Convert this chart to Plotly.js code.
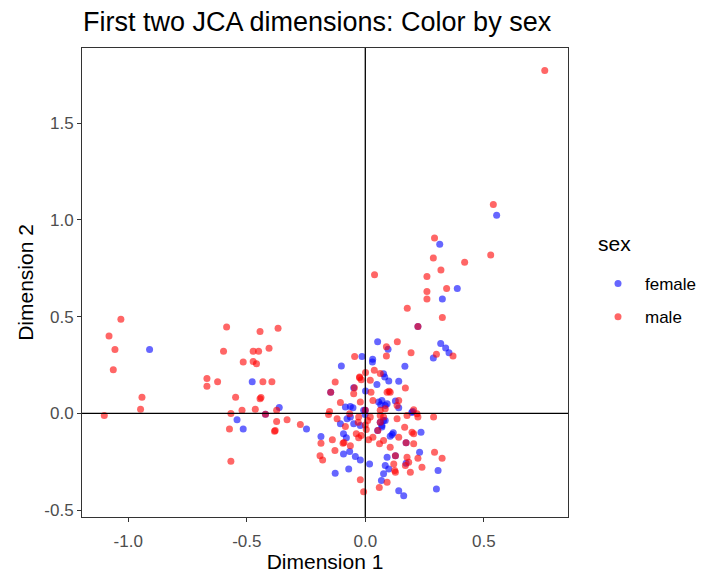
<!DOCTYPE html>
<html>
<head>
<meta charset="utf-8">
<script src="https://cdn.plot.ly/plotly-3.0.1.min.js"></script>
<style>html,body{margin:0;padding:0;background:#fff;}#chart{width:702px;height:573px;}</style>
</head>
<body>
<div id="chart"></div>
<script>
const femaleX = [-0.910,-0.477,-0.421,-0.363,-0.541,-0.515,-0.248,-0.187,0.554,0.314,0.388,0.325,0.222,0.052,0.096,0.318,0.339,0.353,0.287,-0.014,0.031,0.167,0.099,0.141,0.127,0.092,0.141,0.200,-0.101,0.049,-0.049,0.001,-0.146,-0.084,-0.063,-0.052,0.056,0.070,0.084,0.000,-0.105,-0.077,-0.049,-0.021,-0.080,-0.092,-0.066,-0.042,-0.021,-0.127,-0.070,0.018,0.068,0.077,0.052,0.070,0.084,0.084,0.235,0.113,0.118,0.105,0.172,0.229,0.127,0.172,0.307,0.300,0.141,0.162,0.092,0.099,0.077,0.082,0.065,-0.063,-0.007,-0.001,0.063,0.070,0.077,-0.092,0.196,0.030];
const femaleY = [0.330,0.164,-0.004,0.031,-0.033,-0.081,-0.081,-0.119,1.024,0.874,0.646,0.591,0.449,0.370,0.332,0.361,0.338,0.314,0.287,0.294,0.280,0.244,0.167,0.166,0.064,0.050,0.030,0.010,0.245,0.150,0.133,0.116,0.110,0.033,0.036,0.030,0.059,0.067,0.041,0.016,-0.053,-0.027,-0.053,-0.062,-0.126,-0.209,-0.197,-0.223,-0.240,-0.309,-0.287,-0.261,-0.347,-0.312,-0.088,-0.062,-0.036,-0.269,-0.097,-0.109,-0.100,-0.118,-0.152,-0.200,-0.218,-0.257,-0.295,-0.390,-0.399,-0.425,-0.226,-0.287,0.205,0.188,0.045,-0.019,0.016,-0.005,-0.045,-0.070,-0.036,-0.105,0.005,0.266];

const maleX = [-1.031,-1.081,-1.056,-1.063,-1.101,-0.942,-0.948,-0.585,-0.444,-0.368,-0.598,-0.473,-0.450,-0.406,-0.515,-0.473,-0.459,-0.668,-0.668,-0.623,-0.432,-0.394,-0.547,-0.444,-0.440,-0.567,-0.520,-0.464,-0.421,-0.374,-0.374,-0.330,-0.573,-0.383,-0.380,-0.274,-0.187,-0.191,-0.180,-0.567,0.540,0.292,0.287,0.529,0.419,0.319,0.039,0.260,0.260,0.260,0.343,0.177,0.325,0.222,0.135,0.089,0.193,0.370,0.300,-0.045,0.757,0.169,0.092,0.105,0.100,0.141,0.089,0.038,0.001,-0.127,-0.024,0.021,0.063,-0.046,-0.049,0.024,-0.146,-0.105,-0.151,-0.021,0.032,0.000,-0.119,-0.066,-0.028,-0.139,-0.094,-0.090,-0.063,-0.038,-0.028,0.014,-0.128,-0.021,-0.007,0.059,0.032,0.060,0.077,0.063,0.288,0.222,0.176,0.166,0.197,0.141,0.172,0.204,0.292,0.324,0.222,0.239,0.127,0.176,0.190,0.124,0.092,0.105,-0.024,-0.017,0.134,-0.084,0.021,0.010,0.063,0.084,0.063,0.077,0.134,0.204,0.218,0.204,0.004,-0.017,0.053,0.127,0.120,0.183,0.169,-0.030,0.000,-0.155];
const maleY = [0.487,0.400,0.330,0.226,-0.010,0.084,0.022,0.447,0.423,0.440,0.321,0.321,0.321,0.337,0.266,0.268,0.257,0.180,0.140,0.164,0.164,0.164,0.084,0.076,0.082,0.000,0.016,0.022,-0.004,0.016,-0.041,-0.033,-0.081,-0.092,-0.088,-0.057,-0.154,-0.219,-0.240,-0.247,1.079,0.907,0.803,0.819,0.781,0.741,0.717,0.708,0.630,0.591,0.646,0.544,0.496,0.449,0.370,0.297,0.314,0.297,0.306,0.294,1.772,0.131,0.110,0.110,0.115,0.067,0.344,0.223,0.211,0.162,0.185,0.171,0.206,0.133,0.102,0.110,0.110,0.057,0.010,0.059,0.067,0.016,-0.027,-0.002,-0.019,-0.136,-0.154,-0.150,-0.167,-0.105,-0.126,-0.136,-0.192,-0.342,-0.404,-0.382,-0.123,-0.157,-0.140,-0.010,-0.019,-0.019,-0.010,-0.071,-0.097,-0.123,-0.152,-0.157,-0.200,-0.231,-0.231,-0.278,-0.218,-0.226,-0.304,-0.295,-0.356,-0.175,0.188,0.174,0.041,-0.067,-0.019,-0.036,0.016,0.024,-0.045,-0.019,-0.027,0.019,-0.002,-0.105,-0.083,-0.114,-0.088,-0.304,-0.261,-0.252,-0.269,-0.045,-0.060,-0.005];

const tickVals = [-1.0,-0.5,0.0,0.5];
const tickText = ["-1.0","-0.5","0.0","0.5"];
const yTickVals = [-0.5,0.0,0.5,1.0,1.5];
const yTickText = ["-0.5","0.0","0.5","1.0","1.5"];

const FONT = 'Liberation Sans, Arial, sans-serif';

const traces = [
  {x: femaleX, y: femaleY, type:'scatter', mode:'markers', name:'female', legendgroup:'f',
   marker:{color:'rgba(0,0,255,0.6)', size:7, line:{width:0}}, hoverinfo:'skip'},
  {x: maleX, y: maleY, type:'scatter', mode:'markers', name:'male', legendgroup:'m',
   marker:{color:'rgba(255,0,0,0.6)', size:7, line:{width:0}}, hoverinfo:'skip'}
];

const axisCommon = {
  showgrid:false, zeroline:false, showline:true, mirror:true, linecolor:'#333333', linewidth:1,
  ticks:'outside', ticklen:4, tickcolor:'#333333', tickwidth:1,
  tickfont:{family:FONT, size:17, color:'#4d4d4d'}
};

const layout = {
  width:702, height:573,
  margin:{l:82, r:134, t:48, b:56, autoexpand:false},
  paper_bgcolor:'#ffffff', plot_bgcolor:'#ffffff',
  font:{family:FONT},
  title:{text:'First two JCA dimensions: Color by sex', xref:'container', x:83/702, xanchor:'left',
         yref:'container', y:1-22/573, yanchor:'middle', font:{size:27, color:'#000000'}},
  xaxis:Object.assign({}, axisCommon, {range:[-1.195,0.855], tickvals:tickVals, ticktext:tickText,
         ticklabelstandoff:5,
         title:{text:'Dimension 1', standoff:2, font:{size:21, color:'#000'}}}),
  yaxis:Object.assign({}, axisCommon, {range:[-0.535,1.888], tickvals:yTickVals, ticktext:yTickText,
         title:{text:'Dimension 2', standoff:4, font:{size:21, color:'#000'}}}),
  shapes:[
    {type:'line', xref:'x', yref:'paper', x0:0, x1:0, y0:0, y1:1, line:{color:'#000', width:1.3}, layer:'above'},
    {type:'line', xref:'paper', yref:'y', x0:0, x1:1, y0:0, y1:0, line:{color:'#000', width:1.3}, layer:'above'}
  ],
  annotations:[
    {text:'sex', xref:'paper', yref:'paper', x:(596-82)/486, xanchor:'left', y:(517-243)/469, yanchor:'middle',
     showarrow:false, font:{family:FONT, size:21, color:'#000'}}
  ],
  showlegend:true,
  legend:{x:(591-82)/486, xanchor:'left', y:(517-266)/469, yanchor:'top', traceorder:'grouped', tracegroupgap:8,
          itemwidth:44, font:{family:FONT, size:17, color:'#000'}, itemsizing:'trace', bgcolor:'rgba(0,0,0,0)'}
};

Plotly.newPlot('chart', traces, layout, {staticPlot:true});
</script>
</body>
</html>
